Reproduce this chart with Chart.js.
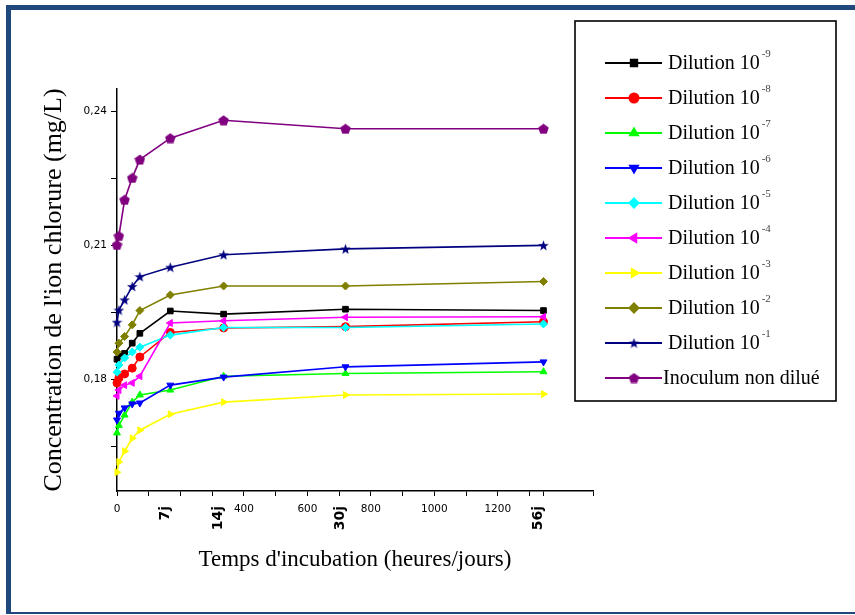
<!DOCTYPE html>
<html>
<head>
<meta charset="utf-8">
<script src="https://cdn.jsdelivr.net/npm/chart.js@4.4.1/dist/chart.umd.min.js"></script>
<style>
  html, body { margin: 0; padding: 0; background: #fff; }
  #wrap { position: relative; width: 855px; height: 615px; overflow: hidden; }
  #frame {
    position: absolute; left: 6px; top: 5px; right: -10px; bottom: 1px;
    border-left: 5px solid #1f497d; border-top: 5px solid #1f497d; border-bottom: 2px solid #1f497d;
    pointer-events: none;
  }
  canvas { position: absolute; left: 0; top: 0; }
</style>
</head>
<body>
<div id="wrap">
  <canvas id="chart" width="855" height="615"></canvas>
  <div id="frame"></div>
</div>
<script>
// Sampling times (hours)
const hours = [0, 6, 24, 48, 72, 168, 336, 720, 1344];

// Chloride ion concentration (mg/L) for each dilution
const dil9 = [0.1845, 0.1852, 0.1858, 0.1881, 0.1903, 0.1953, 0.1946, 0.1957, 0.1954];
const dil8 = [0.1792, 0.1803, 0.1812, 0.1825, 0.1850, 0.1905, 0.1915, 0.1918, 0.1929];
const dil7 = [0.1680, 0.1697, 0.1720, 0.1749, 0.1765, 0.1776, 0.1807, 0.1813, 0.1817];
const dil6 = [0.1709, 0.1724, 0.1736, 0.1745, 0.1747, 0.1787, 0.1805, 0.1828, 0.1839];
const dil5 = [0.1816, 0.1832, 0.1848, 0.1861, 0.1872, 0.1899, 0.1916, 0.1916, 0.1924];
const dil4 = [0.1763, 0.1776, 0.1787, 0.1792, 0.1807, 0.1926, 0.1931, 0.1939, 0.1940];
const dil3 = [0.1592, 0.1615, 0.1639, 0.1668, 0.1686, 0.1722, 0.1749, 0.1765, 0.1767];
const dil2 = [0.1861, 0.1881, 0.1896, 0.1922, 0.1954, 0.1989, 0.2009, 0.2009, 0.2019];
const dil1 = [0.1928, 0.1955, 0.1978, 0.2008, 0.2030, 0.2051, 0.2079, 0.2092, 0.2100];
const inoculum = [0.2101, 0.2121, 0.2202, 0.2251, 0.2292, 0.2340, 0.2380, 0.2361, 0.2361];

const seriesLabels = ['Dilution 10^-9', 'Dilution 10^-8', 'Dilution 10^-7', 'Dilution 10^-6', 'Dilution 10^-5',
  'Dilution 10^-4', 'Dilution 10^-3', 'Dilution 10^-2', 'Dilution 10^-1', 'Inoculum non dilué'];
const seriesValues = [dil9, dil8, dil7, dil6, dil5, dil4, dil3, dil2, dil1, inoculum];

// Axis ticks
const xTicks = [0, 100, 200, 300, 400, 500, 600, 700, 800, 900, 1000, 1100, 1200, 1300, 1344, 1500];
const xTickLabels = ['0', '', '', '', '400', '', '600', '', '800', '', '1000', '', '1200', '', '', ''];
const dayHours = [168, 336, 720, 1344];
const dayLabels = ['7j', '14j', '30j', '56j'];
const yTicks = [0.165, 0.18, 0.195, 0.21, 0.225, 0.24];
const yTickLabels = ['', '0,18', '', '0,21', '', '0,24'];

// Styles
const colors = ['#000000', '#ff0000', '#00ff00', '#0000ff', '#00ffff', '#ff00ff', '#ffff00', '#808000', '#000080', '#800080'];

function makeMarker(color, n, star) {
    const c = document.createElement('canvas');
    c.width = 11; c.height = 11;
    const g = c.getContext('2d');
    g.fillStyle = color;
    g.beginPath();
    const pts = star ? 10 : n;
    for (let k = 0; k < pts; k++) {
        const r = star && k % 2 ? 2.3 : 5.5;
        const a = -Math.PI / 2 + k * 2 * Math.PI / pts;
        const px = 5.5 + r * Math.cos(a);
        const py = 6 + r * Math.sin(a);
        if (k === 0) g.moveTo(px, py); else g.lineTo(px, py);
    }
    g.closePath();
    g.fill();
    return c;
}

const markers = [
    { style: 'rect', rot: 0 },
    { style: 'circle', rot: 0 },
    { style: 'triangle', rot: 0 },
    { style: 'triangle', rot: 180 },
    { style: 'rectRot', rot: 0 },
    { style: 'triangle', rot: 270 },
    { style: 'triangle', rot: 90 },
    { style: 'rectRot', rot: 0 },
    { style: makeMarker('#000080', 5, true), rot: 0 },
    { style: makeMarker('#800080', 5, false), rot: 0 },
];

// later series are drawn over earlier ones, as in the original plot
const datasets = seriesLabels.map((label, i) => ({
    label: label,
    data: hours.map((h, j) => ({ x: h, y: seriesValues[i][j] })),
    borderColor: colors[i],
    backgroundColor: colors[i],
    borderWidth: 1.6,
    pointStyle: markers[i].style,
    rotation: markers[i].rot,
    pointRadius: 4,
    pointBorderWidth: 1,
    tension: 0,
    clip: false,
    order: seriesLabels.length - i
}));

// Day labels under the x axis and the boxed legend
const decorations = {
    id: 'decorations',
    afterDraw(chart) {
        const ctx = chart.ctx;
        const xs = chart.scales.x;
        ctx.save();

        ctx.fillStyle = '#000';
        ctx.font = 'bold 14px "DejaVu Sans"';
        ctx.textAlign = 'right';
        ctx.textBaseline = 'middle';
        dayHours.forEach((h, i) => {
            ctx.save();
            ctx.translate(xs.getPixelForValue(h) - 5, 506);
            ctx.rotate(-Math.PI / 2);
            ctx.fillText(dayLabels[i], 0, 0);
            ctx.restore();
        });

        // legend box
        ctx.strokeStyle = '#000';
        ctx.lineWidth = 1.6;
        ctx.strokeRect(575, 21, 261, 380);

        chart.data.datasets.forEach((ds, i) => {
            const y = 63 + 35 * i;
            ctx.strokeStyle = ds.borderColor;
            ctx.fillStyle = ds.borderColor;
            ctx.lineWidth = 2;
            ctx.beginPath();
            ctx.moveTo(605, y);
            ctx.lineTo(662, y);
            ctx.stroke();
            if (Chart.helpers && Chart.helpers.drawPoint) {
                Chart.helpers.drawPoint(ctx, { pointStyle: ds.pointStyle, rotation: ds.rotation, radius: 4.5, borderWidth: 1 }, 634, y);
            }

            const parts = ds.label.split('^');
            ctx.fillStyle = '#000';
            ctx.textAlign = 'left';
            ctx.textBaseline = 'middle';
            ctx.font = '20px "Liberation Serif"';
            const tx = parts.length > 1 ? 668 : 663;
            ctx.fillText(parts[0], tx, y + 1);
            if (parts.length > 1) {
                const w = ctx.measureText(parts[0]).width;
                ctx.font = '11px "Liberation Serif"';
                ctx.fillStyle = '#444';
                ctx.fillText(parts[1], tx + w + 2, y - 9);
            }
        });
        ctx.restore();
    }
};

new Chart(document.getElementById('chart'), {
    type: 'line',
    data: { datasets: datasets },
    options: {
        responsive: false,
        animation: false,
        layout: { padding: { top: 89, right: 262, bottom: 0, left: 0 } },
        plugins: { legend: { display: false }, tooltip: { enabled: false } },
        scales: {
            x: {
                type: 'linear',
                min: 0,
                max: 1500,
                afterBuildTicks: s => { s.ticks = xTicks.map(v => ({ value: v })); },
                afterFit: s => { s.height = 124; },
                ticks: {
                    autoSkip: false, maxRotation: 0, minRotation: 0, padding: 7,
                    color: '#000', font: { family: 'DejaVu Sans', size: 10.5 },
                    callback: (v, i) => xTickLabels[i]
                },
                grid: { drawOnChartArea: false, tickLength: 5, color: '#000', tickWidth: 1 },
                border: { color: '#000', width: 1.5 },
                title: {
                    display: true, text: "Temps d'incubation (heures/jours)", color: '#000',
                    font: { family: 'Liberation Serif', size: 23 }, padding: { top: 0, bottom: 41 }
                }
            },
            y: {
                min: 0.155,
                max: 0.245,
                afterBuildTicks: s => { s.ticks = yTicks.map(v => ({ value: v })); },
                afterFit: s => { s.width = 117; },
                ticks: {
                    autoSkip: false, padding: 4, color: '#000',
                    font: { family: 'DejaVu Sans', size: 10.5 },
                    callback: (v, i) => yTickLabels[i]
                },
                grid: { drawOnChartArea: false, tickLength: 6, color: '#000', tickWidth: 1 },
                border: { color: '#000', width: 1.5 },
                title: {
                    display: true, text: "Concentration de l'ion chlorure (mg/L)", color: '#000',
                    font: { family: 'Liberation Serif', size: 26 }, padding: { top: 39, bottom: 0 }
                }
            }
        }
    },
    plugins: [decorations]
});
</script>
</body>
</html>
